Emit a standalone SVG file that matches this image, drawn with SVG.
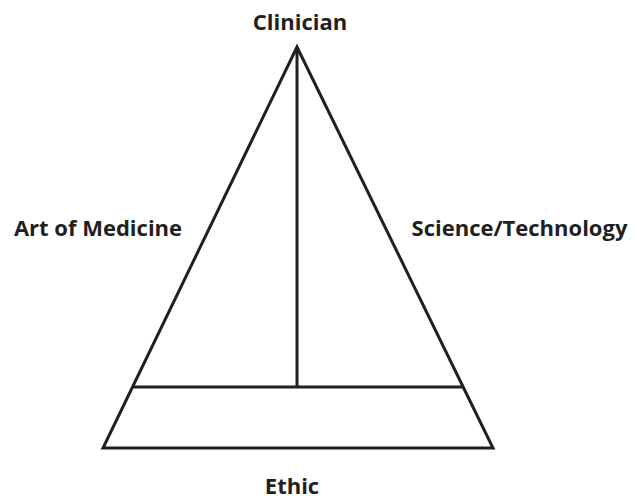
<svg xmlns="http://www.w3.org/2000/svg" width="637" height="500" viewBox="0 0 637 500">
<style>
.lbl{font-family:"Open Sans","Liberation Sans",sans-serif;font-weight:bold;font-size:22px;fill:#231f20}
.ln{stroke:#231f20;stroke-width:3;fill:none;stroke-linejoin:miter}
</style>
<rect width="637" height="500" fill="#fff"/>
<g id="connectors">
<path class="ln" d="M297,47 L493,448 L103,448 Z"/>
<line class="ln" x1="132.5" y1="387" x2="463" y2="387"/>
<line class="ln" x1="297" y1="47" x2="297" y2="387"/>
</g>
<g id="clinician"><text class="lbl" x="300" y="30" text-anchor="middle">Clinician</text></g>
<g id="art"><text class="lbl" x="98" y="236" text-anchor="middle">Art of Medicine</text></g>
<g id="science"><text class="lbl" x="519.5" y="236" text-anchor="middle">Science/Technology</text></g>
<g id="ethic"><text class="lbl" x="292" y="494" text-anchor="middle">Ethic</text></g>
</svg>
